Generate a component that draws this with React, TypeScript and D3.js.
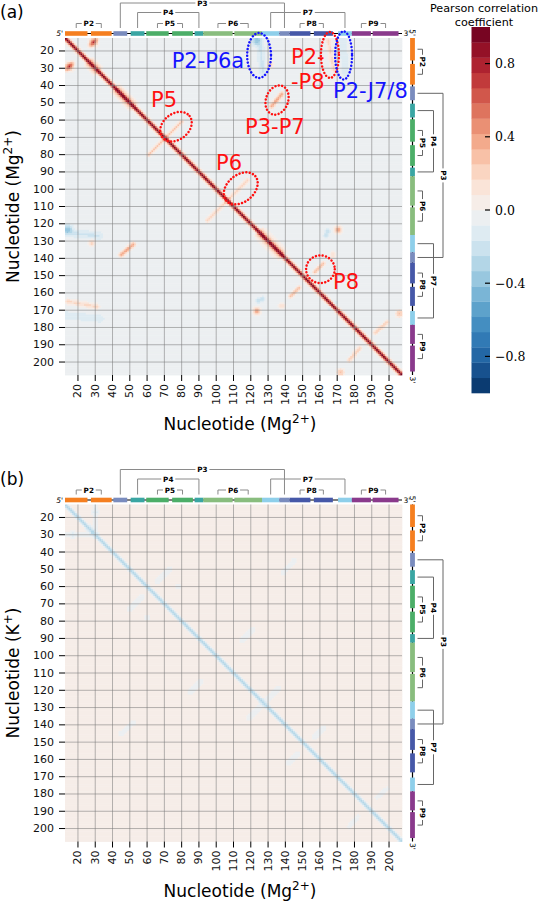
import React from 'react'
import * as d3 from 'd3'

const W = 539
const H = 905

// nucleotides shown on both axes
const firstNt = 13
const lastNt = 207
const tickValues = [20, 30, 40, 50, 60, 70, 80, 90, 100, 110, 120, 130, 140, 150, 160, 170, 180, 190, 200]

// secondary structure segments along the sequence
const segHelix = ['P2', 'P2', 'P3', 'P4', 'P5', 'P5', 'P4', 'P6', 'P6', 'P7', 'P3', 'P8', 'P8', 'P7', 'P9', 'P9']
const segStart = [13, 28, 41, 51, 60, 75, 88, 93, 111, 127, 137, 143, 157, 171, 179, 191]
const segEnd = [25, 39, 48, 58, 72, 86, 92, 109, 126, 136, 142, 154, 167, 178, 189, 205]
const helixNames = ['P2', 'P3', 'P4', 'P5', 'P6', 'P7', 'P8', 'P9']
const helixColors = ['#f57f20', '#7a8cbe', '#3aa6a3', '#4cae68', '#89bd7e', '#8ecfea', '#4658a8', '#8a3a8c']
const helixLevels = [1, 3, 2, 1, 1, 2, 1, 1]

// panel (a) Mg2+ : background, diagonal [amp, width]
const mgBase = -0.04
const mgDiag = [1.0, 0.84]
// streaks: x0, y0, x1, y1 (nt), amplitude, width (nt) -- mirrored across diagonal
const mgStreaks = [
  [72, 69, 80, 61, 0.3, 0.8],
  [108, 105, 118, 95, 0.28, 0.8],
  [132, 52, 138, 45, 0.42, 1.0],
  [157, 148, 162, 143, 0.35, 0.8],
  [192, 183, 199, 177, 0.28, 0.9],
  [165, 14, 168, 31, 0.22, 1.1],
  [27, 17, 31, 13, 0.25, 0.8],
  [125, 13, 127, 32, -0.14, 1.6],
  [173, 13, 175, 33, -0.12, 1.5],
  [41, 44, 50, 53, 0.18, 1.2],
  [124, 127, 136, 139, 0.2, 1.2],
  [25, 28, 30, 33, 0.18, 1.0],
]
// spots: x, y (nt), width, amplitude
const mgSpots = [
  [29, 15, 1.6, 0.55],
  [170.5, 123.5, 1.4, 0.45],
  [206, 172, 1.4, 0.35],
  [138, 167.5, 1.2, 0.22],
  [28, 131, 1.3, 0.28],
  [14, 123, 1.8, -0.3],
  [164.5, 124.5, 1.0, -0.2],
  [127, 163.5, 1.0, -0.2],
  [166, 169, 1.0, -0.15],
]

// panel (b) K+
const kBase = 0.035
const kDiag = [-0.32, 1.0]
const kStreaks = [
  [13, 30, 27, 30, -0.1, 1.2],
  [50, 73, 57, 66, -0.1, 1.0],
  [115, 91, 121, 85, -0.1, 1.0],
  [130, 125, 136, 119, -0.1, 1.0],
  [139, 52, 145, 45, -0.1, 1.0],
  [157, 147, 162, 142, -0.1, 1.0],
  [193, 182, 199, 177, -0.08, 1.0],
]
const kSpots = [
  [60, 78, 1.2, -0.1],
  [30, 17, 1.2, -0.08],
]

// annotations on panel (a): label, x, y (nt, text start / baseline), colour
const annoText = ['P2-P6a', 'P2-', '-P8', 'P2-J7/8', 'P3-P7', 'P5', 'P6', 'P8']
const annoTextX = [74.2, 143.3, 143.3, 167.6, 116.7, 62.3, 99.9, 167.6]
const annoTextY = [29.9, 27.5, 42.0, 47.2, 68.0, 52.4, 88.9, 157.7]
const annoTextColor = ['#1414ff', '#ff1010', '#ff1010', '#1414ff', '#ff1010', '#ff1010', '#ff1010', '#ff1010']
// ellipses: cx, cy, rx, ry (nt), rotation, colour
const ellCx = [124.8, 165.8, 173.7, 135.2, 76.7, 114.2, 160.3]
const ellCy = [22.6, 22.3, 22.6, 48.4, 63.8, 99.5, 146.3]
const ellRx = [6.9, 5.2, 4.9, 6.4, 10, 11, 8.3]
const ellRy = [13.0, 13.3, 13.9, 8.7, 7.5, 7.8, 8.0]
const ellRot = [0, 0, 0, 20, -38, -40, 0]
const ellColor = ['#1414ff', '#ff1010', '#1414ff', '#ff1010', '#ff1010', '#ff1010', '#ff1010']

const cbTicks = [-0.8, -0.4, 0, 0.4, 0.8]

const heatLeft = 65
const heatRight = 402
const heatSize = 337

const colorBins = d3.range(24).map((i) => d3.interpolateRdBu(1 - (i + 0.5) / 24))

function gauss(d2, w) {
  return Math.exp(-d2 / (2 * w * w))
}

function segDist2(px, py, x0, y0, x1, y1) {
  const dx = x1 - x0
  const dy = y1 - y0
  const t = Math.max(0, Math.min(1, ((px - x0) * dx + (py - y0) * dy) / (dx * dx + dy * dy)))
  const ex = x0 + t * dx - px
  const ey = y0 + t * dy - py
  return ex * ex + ey * ey
}

function buildRuns(base, diag, streaks, spots) {
  const runs = []
  for (let r = firstNt; r <= lastNt; r++) {
    let startC = firstNt
    let prevBin = -1
    for (let c = firstNt; c <= lastNt + 1; c++) {
      let bin = -2
      if (c <= lastNt) {
        let v = base + diag[0] * gauss(((c - r) * (c - r)) / 2, diag[1])
        for (const s of streaks) {
          v += s[4] * (gauss(segDist2(c, r, s[0], s[1], s[2], s[3]), s[5]) + gauss(segDist2(r, c, s[0], s[1], s[2], s[3]), s[5]))
        }
        for (const p of spots) {
          const a = (c - p[0]) ** 2 + (r - p[1]) ** 2
          const b = (r - p[0]) ** 2 + (c - p[1]) ** 2
          v += p[3] * (gauss(a, p[2]) + gauss(b, p[2]))
        }
        bin = Math.max(0, Math.min(23, Math.floor((v + 1) * 12)))
      }
      if (bin !== prevBin) {
        if (prevBin >= 0) runs.push({ row: r, c0: startC, c1: c - 1, bin: prevBin })
        startC = c
        prevBin = bin
      }
    }
  }
  return runs
}

const mgRuns = buildRuns(mgBase, mgDiag, mgStreaks, mgSpots)
const kRuns = buildRuns(kBase, kDiag, kStreaks, kSpots)

const helices = helixNames.map((name, i) => {
  const idx = segHelix.map((h, j) => (h === name ? j : -1)).filter((j) => j >= 0)
  const first = idx[0]
  const last = idx[idx.length - 1]
  return {
    name,
    level: helixLevels[i],
    a: (segStart[first] + segEnd[first]) / 2,
    b: (segStart[last] + segEnd[last]) / 2,
  }
})

const levelOff = [0, 10, 21, 30.5]

function Panel({ top, runs, letter, ion, showAnno }) {
  const x = d3.scaleLinear().domain([firstNt - 0.5, lastNt + 0.5]).range([heatLeft, heatRight])
  const y = d3.scaleLinear().domain([firstNt - 0.5, lastNt + 0.5]).range([top, top + heatSize])
  const bottom = top + heatSize
  const barY = top - 4.5
  const barX = heatRight + 10.5
  const colorOf = (name) => helixColors[helixNames.indexOf(name)]

  return (
    <g>
      <text x={0} y={top - 20} fontSize={17}>({letter})</text>

      {/* heatmap */}
      <g>
        {runs.map((d, i) => (
          <rect
            key={i}
            x={x(d.c0 - 0.5)}
            y={y(d.row - 0.5)}
            width={x(d.c1 + 0.5) - x(d.c0 - 0.5) + 0.3}
            height={y(d.row + 0.5) - y(d.row - 0.5) + 0.4}
            fill={colorBins[d.bin]}
          />
        ))}
      </g>

      {/* grid */}
      <g stroke="#7a7a7a" strokeOpacity={0.55} strokeWidth={1}>
        {tickValues.map((t) => (
          <line key={'v' + t} x1={x(t)} x2={x(t)} y1={top} y2={bottom} />
        ))}
        {tickValues.map((t) => (
          <line key={'h' + t} x1={heatLeft} x2={heatRight} y1={y(t)} y2={y(t)} />
        ))}
      </g>

      {/* axes */}
      <g fontSize={11} fill="#111">
        {tickValues.map((t) => (
          <g key={'xt' + t}>
            <line x1={x(t)} x2={x(t)} y1={bottom} y2={bottom + 6} stroke="#000" />
            <text transform={`translate(${x(t)},${bottom + 9}) rotate(-90)`} textAnchor="end" dominantBaseline="central">
              {t}
            </text>
          </g>
        ))}
        {tickValues.map((t) => (
          <g key={'yt' + t}>
            <line x1={heatLeft - 6} x2={heatLeft} y1={y(t)} y2={y(t)} stroke="#000" />
            <text x={heatLeft - 11} y={y(t)} textAnchor="end" dominantBaseline="central">
              {t}
            </text>
          </g>
        ))}
      </g>
      <text x={240} y={bottom + 55} fontSize={17} textAnchor="middle">
        Nucleotide (Mg<tspan dy={-7} fontSize={12}>2+</tspan><tspan dy={7}>)</tspan>
      </text>
      <text transform={`translate(19,${(top + bottom) / 2}) rotate(-90)`} fontSize={17} textAnchor="middle">
        Nucleotide ({ion.base}<tspan dy={-7} fontSize={12}>{ion.charge}</tspan><tspan dy={7}>)</tspan>
      </text>

      {/* top structure bar */}
      <line x1={heatLeft} x2={heatRight} y1={barY} y2={barY} stroke="#000" strokeWidth={1.2} />
      {segHelix.map((h, i) => (
        <rect key={'ts' + i} x={x(segStart[i] - 0.5)} y={barY - 2.3} width={x(segEnd[i] + 0.5) - x(segStart[i] - 0.5)} height={4.6} fill={colorOf(h)} />
      ))}
      <text x={heatLeft - 2} y={barY} fontSize={7.5} fontStyle="italic" textAnchor="end" dominantBaseline="central">5'</text>
      <text x={heatRight + 1.5} y={barY} fontSize={7.5} dominantBaseline="central">3'</text>
      {helices.map((h) => {
        const ly = barY - levelOff[h.level]
        const x0 = x(h.a)
        const x1 = x(h.b)
        const mid = (x0 + x1) / 2
        return (
          <g key={'tb' + h.name}>
            <path d={`M${x0},${barY - 5.5}V${ly}H${x1}V${barY - 5.5}`} fill="none" stroke="#8a8a8a" strokeWidth={1} />
            <rect x={mid - 7} y={ly - 4} width={14} height={8} fill="#fff" />
            <text x={mid} y={ly} fontSize={7.2} fontWeight="bold" textAnchor="middle" dominantBaseline="central">{h.name}</text>
          </g>
        )
      })}

      {/* right structure bar */}
      <line x1={barX} x2={barX} y1={top} y2={bottom} stroke="#000" strokeWidth={1.2} />
      {segHelix.map((h, i) => (
        <rect key={'rs' + i} x={barX - 2.4} y={y(segStart[i] - 0.5)} width={4.8} height={y(segEnd[i] + 0.5) - y(segStart[i] - 0.5)} fill={colorOf(h)} />
      ))}
      <text transform={`translate(${barX},${top - 2}) rotate(90)`} fontSize={7.5} textAnchor="end" dominantBaseline="central">5'</text>
      <text transform={`translate(${barX},${bottom + 1.5}) rotate(90)`} fontSize={7.5} dominantBaseline="central">3'</text>
      {helices.map((h) => {
        const lx = barX + levelOff[h.level]
        const y0 = y(h.a)
        const y1 = y(h.b)
        const mid = (y0 + y1) / 2
        return (
          <g key={'rb' + h.name}>
            <path d={`M${barX + 5},${y0}H${lx}V${y1}H${barX + 5}`} fill="none" stroke="#666" strokeWidth={1} />
            <rect x={lx - 4} y={mid - 7} width={8} height={14} fill="#fff" />
            <text transform={`translate(${lx},${mid}) rotate(90)`} fontSize={7.2} fontWeight="bold" textAnchor="middle" dominantBaseline="central">{h.name}</text>
          </g>
        )
      })}

      {showAnno && (
        <g>
          {ellCx.map((cx, i) => (
            <ellipse
              key={'el' + i}
              transform={`translate(${x(cx)},${y(ellCy[i])}) rotate(${ellRot[i]})`}
              rx={x(ellRx[i]) - x(0)}
              ry={y(ellRy[i]) - y(0)}
              fill="none"
              stroke={ellColor[i]}
              strokeWidth={2.5}
              strokeDasharray="0.01 3.4"
              strokeLinecap="round"
            />
          ))}
          {annoText.map((t, i) => (
            <text key={'at' + i} x={x(annoTextX[i])} y={y(annoTextY[i])} fontSize={21} fill={annoTextColor[i]}>
              {t}
            </text>
          ))}
        </g>
      )}
    </g>
  )
}

function ColorBar() {
  const cb = d3.scaleLinear().domain([-1, 1]).range([393, 27])
  const left = 471.5
  const w = 18.5
  return (
    <g>
      {colorBins.map((c, i) => {
        const v0 = -1 + i / 12
        const v1 = v0 + 1 / 12
        return <rect key={i} x={left} y={cb(v1)} width={w} height={cb(v0) - cb(v1) + 0.3} fill={c} />
      })}
      {cbTicks.map((t) => (
        <g key={t}>
          <line x1={left + w - 5} x2={left + w} y1={cb(t)} y2={cb(t)} stroke="#000" strokeWidth={1.2} />
          <text x={left + w + 5} y={cb(t)} fontFamily="'DejaVu Serif', serif" fontSize={12.5} dominantBaseline="central">
            {t < 0 ? '\u2212' + Math.abs(t).toFixed(1) : t.toFixed(1)}
          </text>
        </g>
      ))}
      <text x={484} y={11.5} fontSize={11.2} textAnchor="middle">Pearson correlation</text>
      <text x={484} y={26} fontSize={11.2} textAnchor="middle">coefficient</text>
    </g>
  )
}

export default function App() {
  return (
    <svg
      width={W}
      height={H}
      style={{ position: 'absolute', left: 0, top: 0, background: '#fff' }}
      fontFamily="'DejaVu Sans', sans-serif"
    >
      <rect width={W} height={H} fill="#fff" />
      <Panel top={38} runs={mgRuns} letter="a" ion={{ base: 'Mg', charge: '2+' }} showAnno={true} />
      <Panel top={504.5} runs={kRuns} letter="b" ion={{ base: 'K', charge: '+' }} showAnno={false} />
      <ColorBar />
    </svg>
  )
}
